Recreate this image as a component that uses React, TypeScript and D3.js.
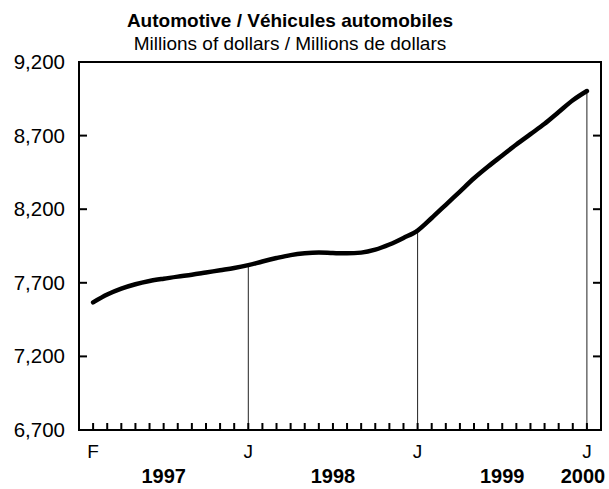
import React from "react";
import * as d3 from "d3";

// Month index 0 = Jan 1997
const monthIndex: number[] = [1,2,3,4,5,6,7,8,9,10,11,12,13,14,15,16,17,18,19,20,21,22,23,24,25,26,27,28,29,30,31,32,33,34,35,36];
const values: number[] = [
  7567, 7620, 7660, 7690, 7712, 7728, 7742, 7755, 7770, 7785, 7800,
  7820, 7845, 7868, 7888, 7900, 7905, 7902, 7900, 7905, 7925, 7960, 8005,
  8055, 8140, 8230, 8320, 8410, 8490, 8565, 8640, 8710, 8780, 8860, 8940,
  9003,
];
const yTicks: number[] = [6700, 7200, 7700, 8200, 8700, 9200];
const monthLabels: { idx: number; label: string }[] = [
  { idx: 1, label: "F" },
  { idx: 12, label: "J" },
  { idx: 24, label: "J" },
  { idx: 36, label: "J" },
];
const yearLabels: { idx: number; label: string }[] = [
  { idx: 6, label: "1997" },
  { idx: 18, label: "1998" },
  { idx: 30, label: "1999" },
  { idx: 36, label: "2000" },
];
const dropLines: number[] = [12, 24, 36];
const title = "Automotive / Véhicules automobiles";
const subtitle = "Millions of dollars / Millions de dollars";

export default function App() {
  const W = 609, H = 489;
  const left = 79, right = 601, top = 62, bottom = 430;
  const x = d3.scaleLinear().domain([0, 37]).range([left, right]);
  const y = d3.scaleLinear().domain([6700, 9200]).range([bottom, top]);
  const data = monthIndex.map((m, i) => ({ m, v: values[i] }));
  const line = d3
    .line<{ m: number; v: number }>()
    .x((d) => x(d.m))
    .y((d) => y(d.v))
    .curve(d3.curveMonotoneX);
  const valAt = (m: number) => values[monthIndex.indexOf(m)];
  const font = "'Liberation Sans', Arial, sans-serif";
  const fmt = d3.format(",");
  return (
    <svg width={W} height={H} style={{ position: "absolute", left: 0, top: 0 }} fontFamily={font}>
      <rect x={0} y={0} width={W} height={H} fill="#fff" />
      <text x={290} y={27} textAnchor="middle" fontWeight="bold" fontSize={19}>{title}</text>
      <text x={290} y={50} textAnchor="middle" fontSize={19}>{subtitle}</text>
      {/* drop lines */}
      {dropLines.map((m) => (
        <line key={"d" + m} x1={x(m)} x2={x(m)} y1={y(valAt(m))} y2={bottom} stroke="#222" strokeWidth={1} />
      ))}
      {/* frame */}
      <rect x={left} y={top} width={right - left} height={bottom - top} fill="none" stroke="#000" strokeWidth={2} />
      {/* y ticks */}
      {yTicks.map((t) => (
        <g key={"y" + t}>
          <line x1={left} x2={left + 8} y1={y(t)} y2={y(t)} stroke="#000" strokeWidth={2} />
          <line x1={right - 8} x2={right} y1={y(t)} y2={y(t)} stroke="#000" strokeWidth={2} />
          <text x={65} y={y(t) + 7} textAnchor="end" fontSize={20.5}>{fmt(t)}</text>
        </g>
      ))}
      {/* x ticks */}
      {monthIndex.map((m) => (
        <line key={"x" + m} x1={x(m)} x2={x(m)} y1={bottom} y2={bottom - 7} stroke="#000" strokeWidth={2} />
      ))}
      {monthLabels.map((d) => (
        <text key={"m" + d.idx} x={x(d.idx)} y={458} textAnchor="middle" fontSize={19}>{d.label}</text>
      ))}
      {yearLabels.map((d) => (
        <text key={"yr" + d.idx} x={Math.min(x(d.idx), right - 18)} y={483} textAnchor="middle" fontWeight="bold" fontSize={20}>{d.label}</text>
      ))}
      <path d={line(data) || ""} fill="none" stroke="#000" strokeWidth={4.5} strokeLinecap="round" strokeLinejoin="round" />
    </svg>
  );
}
